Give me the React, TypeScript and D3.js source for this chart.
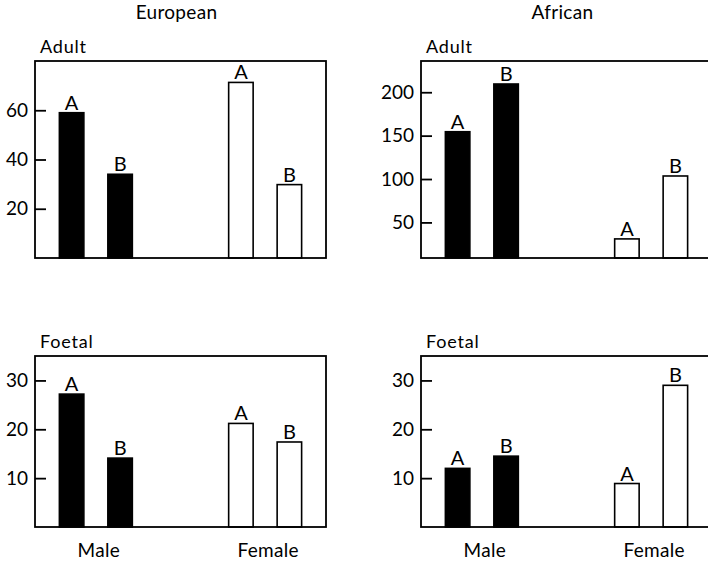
import React, { useEffect, useRef } from 'react';
import * as d3 from 'd3';

const sexes = ['Male', 'Female'];
const groups = ['A', 'B'];
const columnTitles = ['European', 'African'];
const rowTitles = ['Adult', 'Foetal'];

// values, order: Male A, Male B, Female A, Female B
const europeanAdult = [59, 34, 71.3, 29.8];
const africanAdult = [154.5, 209.5, 31, 103.5];
const europeanFoetal = [27.2, 14.1, 21.2, 17.4];
const africanFoetal = [12.0, 14.5, 8.9, 29.0];

const europeanAdultTicks = [20, 40, 60];
const africanAdultTicks = [50, 100, 150, 200];
const foetalTicks = [10, 20, 30];

const App = () => {
  const svgRef = useRef<SVGSVGElement>(null);

  useEffect(() => {
    const svg = d3.select(svgRef.current);
    svg.selectAll('*').remove();

    const width = 708;
    const height = 563;
    const font = 'Lato, "Open Sans", sans-serif';

    svg.attr('width', width).attr('height', height).style('background', 'white');

    const panelW = 291;
    const colLeft = [35, 421];
    const rowBox = [
      [61, 258],
      [356, 527],
    ];

    const panels = [
      { col: 0, row: 0, values: europeanAdult, ticks: europeanAdultTicks, domain: [0, 80] },
      { col: 1, row: 0, values: africanAdult, ticks: africanAdultTicks, domain: [9, 236] },
      { col: 0, row: 1, values: europeanFoetal, ticks: foetalTicks, domain: [0, 35] },
      { col: 1, row: 1, values: africanFoetal, ticks: foetalTicks, domain: [0, 35] },
    ];

    // column titles
    columnTitles.forEach((t, i) => {
      svg
        .append('text')
        .attr('x', colLeft[i] + panelW / 2 - 4)
        .attr('y', 19)
        .attr('text-anchor', 'middle')
        .style('font-family', font)
        .style('font-size', '19px')
        .style('letter-spacing', '0.3px')
        .text(t);
    });

    panels.forEach((p) => {
      const left = colLeft[p.col];
      const [top, bottom] = rowBox[p.row];
      const g = svg.append('g');

      const y = d3.scaleLinear().domain(p.domain).range([bottom, top]);
      const x0 = d3
        .scaleBand()
        .domain(sexes)
        .range([left, left + panelW])
        .paddingInner(0.569)
        .paddingOuter(0.144);
      const x1 = d3
        .scaleBand()
        .domain(groups)
        .range([0, x0.bandwidth()])
        .paddingInner(0.495)
        .paddingOuter(0);

      const data = sexes.flatMap((s, i) =>
        groups.map((grp, j) => ({ sex: s, group: grp, value: p.values[i * 2 + j] }))
      );

      // row title (Adult / Foetal)
      g.append('text')
        .attr('x', left + 5)
        .attr('y', top - 8)
        .style('font-family', font)
        .style('font-size', '18px')
        .style('letter-spacing', '0.8px')
        .text(rowTitles[p.row]);

      // bars
      g.selectAll('.bar')
        .data(data)
        .enter()
        .append('rect')
        .attr('x', (d) => x0(d.sex)! + x1(d.group)!)
        .attr('y', (d) => y(d.value))
        .attr('width', x1.bandwidth())
        .attr('height', (d) => bottom - y(d.value))
        .attr('fill', (d) => (d.sex === 'Male' ? '#000' : '#fff'))
        .attr('stroke', '#000')
        .attr('stroke-width', 1.6);

      // A / B labels
      g.selectAll('.lab')
        .data(data)
        .enter()
        .append('text')
        .attr('x', (d) => x0(d.sex)! + x1(d.group)! + x1.bandwidth() / 2)
        .attr('y', (d) => y(d.value) - 3)
        .attr('text-anchor', 'middle')
        .style('font-family', font)
        .style('font-size', '20px')
        .text((d) => d.group);

      // frame
      g.append('rect')
        .attr('x', left)
        .attr('y', top)
        .attr('width', panelW)
        .attr('height', bottom - top)
        .attr('fill', 'none')
        .attr('stroke', '#000')
        .attr('stroke-width', 1.8);

      // y axis
      const axis = g
        .append('g')
        .attr('transform', `translate(${left},0)`)
        .call(d3.axisLeft(y).tickValues(p.ticks).tickSize(-11).tickPadding(7));
      axis.select('.domain').remove();
      axis.selectAll('line').attr('stroke-width', 1.8);
      axis
        .selectAll('text')
        .style('font-family', font)
        .style('font-size', '19px')
        .attr('fill', '#000');

      // sex labels under bottom row
      if (p.row === 1) {
        g.selectAll('.sex')
          .data(sexes)
          .enter()
          .append('text')
          .attr('x', (s) => x0(s)! + x0.bandwidth() / 2 + 3)
          .attr('y', 557)
          .attr('text-anchor', 'middle')
          .style('font-family', font)
          .style('font-size', '19px')
          .style('letter-spacing', '0.3px')
          .text((s) => s);
      }
    });
  }, []);

  return (
    <div style={{ position: 'absolute', left: 0, top: 0, background: 'white' }}>
      <svg ref={svgRef} style={{ display: 'block' }}></svg>
    </div>
  );
};

export default App;
